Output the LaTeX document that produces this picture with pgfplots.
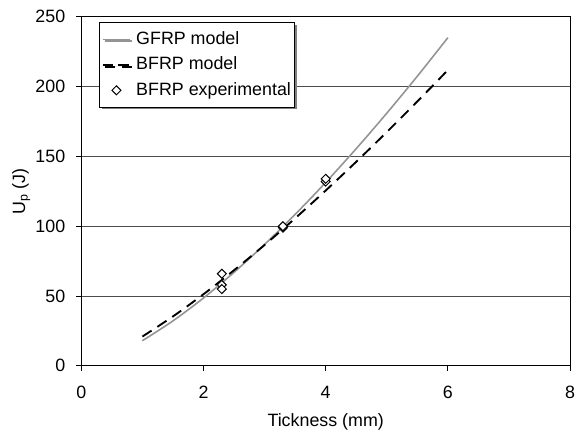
\documentclass[border=0pt]{standalone}
\usepackage{fontspec}
\setmainfont{Liberation Sans}
\usepackage{pgfplots}
\pgfplotsset{compat=1.18}
\usetikzlibrary{shadows}
\pgfplotsset{dashlegend/.style={legend image code/.code={\draw[##1, dash pattern=on 11bp off 5bp] (0bp,0bp) -- (28bp,0bp);}}}
\begin{document}
\fontsize{18bp}{21bp}\selectfont
\begin{tikzpicture}
\begin{axis}[
  scale only axis,
  width=493bp, height=352bp,
  xmin=0, xmax=8, ymin=0, ymax=250,
  xtick={0,2,4,6,8}, ytick={0,50,100,150,200,250},
  tick pos=left, tick align=outside,
  major tick length=5bp,
  axis line style={line width=1bp, black},
  every tick/.style={black, line width=1bp},
  ymajorgrids, major grid style={line width=1bp, black!70},
  /pgf/number format/assume math mode=true,
  tick label style={font=\fontsize{18bp}{21bp}\selectfont},
  xticklabel style={yshift=-9bp},
  yticklabel style={xshift=-5bp},
  label style={font=\fontsize{18bp}{21bp}\selectfont},
  xlabel={Tickness (mm)},
  ylabel={U\textsubscript{p} (J)},
  xlabel style={yshift=-3bp},
  ylabel style={yshift=-7bp},
  legend cell align=left,
  legend style={at={(0.0365,0.985)}, anchor=north west, draw=black, line width=1bp,
    fill=white, font=\fontsize{18bp}{21bp}\selectfont,
    drop shadow={shadow xshift=2bp, shadow yshift=-2bp, fill=black!50, opacity=1},
    row sep=6bp, inner xsep=2bp, inner ysep=7bp},
  legend image code/.code={\draw[mark repeat=2,mark phase=2,#1] plot coordinates {(0bp,0bp) (14bp,0bp) (28bp,0bp)};},
]
\addplot[color=black!42, line width=1.6bp, smooth] coordinates {
(1,18) (1.5,32.2) (2,48.6) (2.5,67.0) (3,87.0) (3.5,108.5) (4,131.4) (4.5,155.6) (5,181.0) (5.5,207.5) (6,235.1)};
\addlegendentry{\hspace{3bp}GFRP model}
\addplot[color=black, line width=1.9bp, dash pattern=on 11bp off 7bp, smooth, dashlegend] coordinates {
(1,21) (1.5,35.4) (2,51.3) (2.5,68.5) (3,86.6) (3.5,105.7) (4,125.6) (4.5,146.2) (5,167.5) (5.5,189.4) (6,211.9)};
\addlegendentry{\hspace{3bp}BFRP model}
\addplot[only marks, mark=square*, mark size=3.2bp, mark options={rotate=45, draw=black, fill=white, line width=1bp}] coordinates {
(2.3,66) (2.3,58) (2.3,55) (3.3,99) (3.3,100) (4,132) (4,134)};
\addlegendentry{\hspace{3bp}BFRP experimental}
\end{axis}
\path (-82bp,-65bp) rectangle (499bp,369bp);
\end{tikzpicture}
\end{document}
